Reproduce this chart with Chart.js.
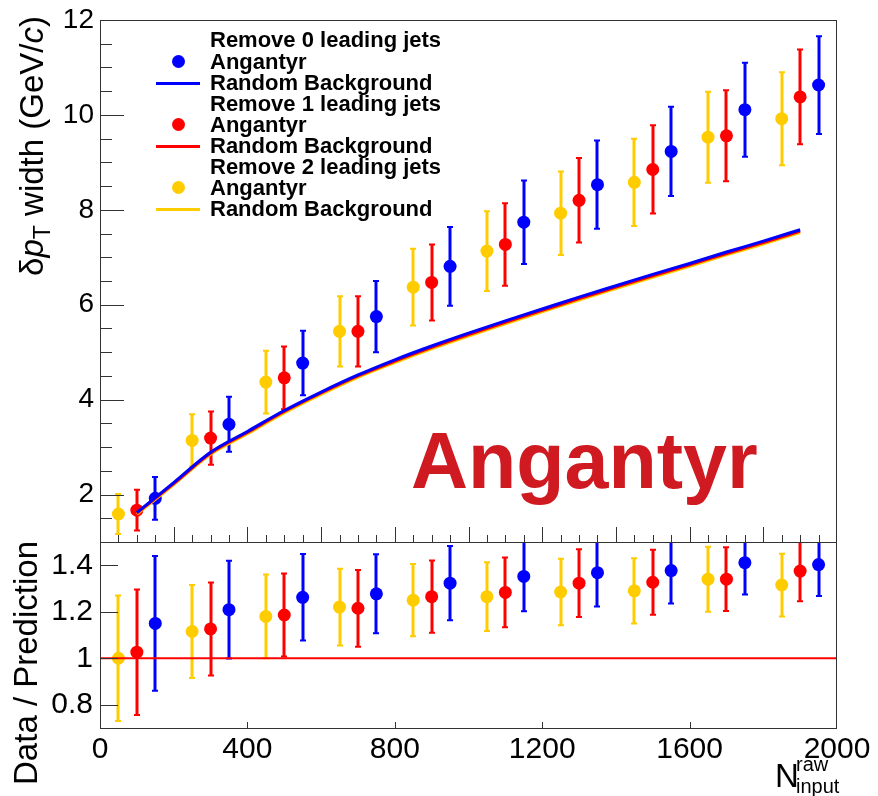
<!DOCTYPE html>
<html><head><meta charset="utf-8">
<script src="https://cdn.jsdelivr.net/npm/chart.js@4.4.1/dist/chart.umd.min.js"></script>
<style>
html,body{margin:0;padding:0;background:#fff;}
#wrap{position:relative;width:878px;height:796px;overflow:hidden;font-family:"Liberation Sans",Arial,Helvetica,sans-serif;color:#000;}
canvas{position:absolute;left:0;}
#c1{top:0;}
#c2{top:520px;}
.t{position:absolute;white-space:nowrap;}
.rot{transform-origin:0 0;transform:rotate(-90deg);width:400px;text-align:right;font-size:33px;line-height:33px;}
.leg{position:absolute;left:210px;font-weight:bold;font-size:22px;line-height:21.1px;white-space:nowrap;}
.dot{position:absolute;width:13px;height:13px;border-radius:50%;left:171.5px;}
.ln{position:absolute;left:156px;width:44px;height:3px;}
</style>
</head><body>
<div id="wrap">
<canvas id="c1" width="878" height="560"></canvas>
<canvas id="c2" width="878" height="276"></canvas>
<div class="t rot" style="left:15px;top:416px;">&delta;<i>p</i><span style="font-size:0.7em;position:relative;top:0.3em;">T</span> width (GeV/<i>c</i>)</div>
<div class="t rot" style="left:9px;top:941px;">Data / Prediction</div>
<div class="t" style="left:775px;top:759px;font-size:33px;line-height:33px;">N</div>
<div class="t" style="left:796px;top:754px;font-size:20px;line-height:20px;">raw</div>
<div class="t" style="left:796px;top:776px;font-size:20px;line-height:20px;">input</div>
<div class="t" style="left:411px;top:421px;font-size:79px;line-height:79px;font-weight:bold;color:rgb(206,26,32);">Angantyr</div>
<div id="legend"></div>
</div>
<script>
// ---- data ----
const bgX      = [100,200,300,400,500,600,700,800,900,1000,1100,1200,1300,1400,1500,1600,1700,1800,1900];
const bgBlue   = [1.62,2.25,2.89,3.33,3.77,4.16,4.52,4.84,5.13,5.40,5.66,5.91,6.16,6.40,6.64,6.87,7.11,7.34,7.58];
const bgRed    = [1.61,2.23,2.87,3.31,3.75,4.14,4.50,4.81,5.10,5.37,5.63,5.88,6.13,6.37,6.61,6.84,7.08,7.31,7.55];
const bgYellow = [1.59,2.21,2.85,3.28,3.72,4.11,4.47,4.78,5.07,5.34,5.60,5.85,6.10,6.34,6.58,6.81,7.05,7.28,7.52];

const xYellow = [50,250,450,650,850,1050,1250,1450,1650,1850];
const xRed    = [100,300,500,700,900,1100,1300,1500,1700,1900];
const xBlue   = [150,350,550,750,950,1150,1350,1550,1750,1950];

const yYellow = [1.59,3.14,4.37,5.44,6.37,7.13,7.93,8.58,9.53,9.92];
const eYellow = [0.42,0.55,0.66,0.74,0.81,0.84,0.88,0.92,0.96,0.98];
const yRed    = [1.67,3.19,4.46,5.44,6.47,7.27,8.20,8.85,9.56,10.38];
const eRed    = [0.43,0.56,0.66,0.74,0.80,0.87,0.89,0.93,0.96,1.00];
const yBlue   = [1.92,3.48,4.77,5.75,6.81,7.74,8.53,9.23,10.11,10.63];
const eBlue   = [0.45,0.58,0.68,0.75,0.83,0.88,0.93,0.94,0.99,1.03];

const rYellow  = [1.00,1.115,1.18,1.22,1.25,1.265,1.285,1.29,1.34,1.315];
const reYellow = [0.27,0.20,0.18,0.165,0.155,0.148,0.143,0.14,0.14,0.135];
const rRed     = [1.026,1.126,1.186,1.215,1.265,1.283,1.323,1.327,1.34,1.375];
const reRed    = [0.27,0.20,0.178,0.165,0.155,0.15,0.146,0.14,0.137,0.13];
const rBlue    = [1.15,1.209,1.262,1.277,1.323,1.352,1.368,1.377,1.411,1.403];
const reBlue   = [0.29,0.21,0.186,0.17,0.16,0.15,0.145,0.142,0.137,0.135];

const ratioLineX = [0,2000];
const ratioLineY = [1,1];

const topYTicks   = [2,4,6,8,10,12];
const ratioYTicks = [0.8,1,1.2,1.4];
const xTickLabels = [0,400,800,1200,1600,2000];

const legendRows = [
  {text:'Remove 0 leading jets'},
  {text:'Angantyr', dot:'#0000ff'},
  {text:'Random Background', line:'#0000ff'},
  {text:'Remove 1 leading jets'},
  {text:'Angantyr', dot:'#ff0000'},
  {text:'Random Background', line:'#ff0000'},
  {text:'Remove 2 leading jets'},
  {text:'Angantyr', dot:'#ffcc00'},
  {text:'Random Background', line:'#ffcc00'}
];

// ---- colours ----
const BLUE='#0000ff', RED='#ff0000', YEL='#ffcc00';

// ---- legend (html text) ----
const lg = document.getElementById('legend');
legendRows.forEach((r,i)=>{
  const cy = 40 + 21.1*i;
  const d = document.createElement('div');
  d.className='leg'; d.style.top=(cy-10.55)+'px'; d.textContent=r.text; lg.appendChild(d);
  if(r.dot){const m=document.createElement('div');m.className='dot';m.style.top=(cy-6.5)+'px';m.style.background=r.dot;lg.appendChild(m);}
  if(r.line){const m=document.createElement('div');m.className='ln';m.style.top=(cy-0.5)+'px';m.style.background=r.line;lg.appendChild(m);}
});

// ---- helpers ----
const pts = (xs,ys,es)=>xs.map((x,i)=>({x:x,y:ys[i],e:es?es[i]:0}));
function range(a,b,s){const o=[];for(let v=a;v<=b+1e-9;v+=s)o.push(Math.round(v*1000)/1000);return o;}

const rootPlugin = {
  id:'rootAxes',
  beforeDatasetsDraw(chart){
    const {ctx, chartArea:a} = chart;
    ctx.save();
    ctx.beginPath(); ctx.rect(a.left,a.top,a.right-a.left,a.bottom-a.top); ctx.clip();
    ctx.lineCap='butt';
    chart.data.datasets.forEach(ds=>{
      if(!ds.errorBars) return;
      const xs = chart.scales.x, ys = chart.scales.y;
      ctx.strokeStyle = ds.backgroundColor;
      ds.data.forEach(d=>{
        const px = Math.round(xs.getPixelForValue(d.x));
        const y1 = ys.getPixelForValue(d.y-d.e), y2 = ys.getPixelForValue(d.y+d.e);
        ctx.lineWidth=3; ctx.beginPath(); ctx.moveTo(px,y1); ctx.lineTo(px,y2); ctx.stroke();
        ctx.lineWidth=2; ctx.beginPath();
        ctx.moveTo(px-3,y1); ctx.lineTo(px+3,y1);
        ctx.moveTo(px-3,y2); ctx.lineTo(px+3,y2); ctx.stroke();
      });
    });
    ctx.restore();
  },
  afterDraw(chart, args, o){
    const {ctx, chartArea:a} = chart;
    const xs = chart.scales.x, ys = chart.scales.y;
    ctx.save();
    ctx.strokeStyle='#333'; ctx.lineWidth=1;
    ctx.strokeRect(a.left+0.5, a.top+0.5, a.right-a.left-1, a.bottom-a.top);
    ctx.beginPath();
    (o.yMajor||[]).forEach(v=>{const p=Math.round(ys.getPixelForValue(v))+0.5;ctx.moveTo(a.left,p);ctx.lineTo(a.left+o.yMajorLen,p);});
    (o.yMinor||[]).forEach(v=>{const p=Math.round(ys.getPixelForValue(v))+0.5;ctx.moveTo(a.left,p);ctx.lineTo(a.left+o.yMinorLen,p);});
    (o.xMajor||[]).forEach(v=>{const p=Math.round(xs.getPixelForValue(v))+0.5;ctx.moveTo(p,a.bottom);ctx.lineTo(p,a.bottom-o.xMajorLen);});
    (o.xMinor||[]).forEach(v=>{const p=Math.round(xs.getPixelForValue(v))+0.5;ctx.moveTo(p,a.bottom);ctx.lineTo(p,a.bottom-o.xMinorLen);});
    ctx.stroke();
    ctx.restore();
  }
};

const FONT = '"Liberation Sans", Arial, Helvetica, sans-serif';
const common = { responsive:false, animation:false, events:[] };
const fixY = s=>{s.width=100; s.paddingTop=0; s.paddingBottom=0;};

const curve = (ys,color)=>({type:'line', data:pts(bgX,ys), borderColor:color, backgroundColor:color, borderWidth:3,
  pointRadius:0, fill:false, showLine:true, cubicInterpolationMode:'monotone'});
const marks = (xs,ys,es,color)=>({type:'scatter', data:pts(xs,ys,es), backgroundColor:color, borderColor:color,
  borderWidth:0, pointRadius:6.5, pointHoverRadius:6.5, errorBars:true});

// ---- top chart ----
new Chart(document.getElementById('c1'), {
  type:'scatter',
  data:{datasets:[
    curve(bgBlue,BLUE), curve(bgRed,RED), curve(bgYellow,YEL),
    marks(xBlue,yBlue,eBlue,BLUE), marks(xRed,yRed,eRed,RED), marks(xYellow,yYellow,eYellow,YEL)
  ]},
  options:Object.assign({}, common, {
    layout:{autoPadding:false, padding:{left:0,right:41,top:20,bottom:18}},
    plugins:{legend:{display:false}, tooltip:{enabled:false},
      rootAxes:{yMajor:topYTicks, yMinor:range(1,12,0.5).filter(v=>v%2!==0), yMajorLen:24, yMinorLen:12,
                xMajor:range(200,1800,200), xMinor:range(50,1950,50).filter(v=>v%200!==0), xMajorLen:15, xMinorLen:7}},
    scales:{
      x:{type:'linear', min:0, max:2000, display:false},
      y:{type:'linear', min:1, max:12,
         afterFit:fixY,
         afterBuildTicks:s=>{s.ticks=topYTicks.map(v=>({value:v}));},
         grid:{display:false, drawTicks:false, tickLength:0}, border:{display:false},
         ticks:{padding:6, color:'#000', font:{family:FONT,size:28}, callback:v=>String(v)}}
    }
  }),
  plugins:[rootPlugin]
});

// ---- ratio chart ----
new Chart(document.getElementById('c2'), {
  type:'scatter',
  data:{datasets:[
    {type:'line', data:ratioLineX.map((x,i)=>({x:x,y:ratioLineY[i]})), borderColor:RED, borderWidth:2, pointRadius:0, fill:false, showLine:true},
    marks(xBlue,rBlue,reBlue,BLUE), marks(xRed,rRed,reRed,RED), marks(xYellow,rYellow,reYellow,YEL)
  ]},
  options:Object.assign({}, common, {
    layout:{autoPadding:false, padding:{left:0,right:41,top:22,bottom:0}},
    plugins:{legend:{display:false}, tooltip:{enabled:false},
      rootAxes:{yMajor:ratioYTicks, yMajorLen:18, xMajor:[400,800,1200,1600], xMajorLen:6}},
    scales:{
      x:{type:'linear', min:0, max:2000,
         afterFit:s=>{s.height=68; s.paddingLeft=0; s.paddingRight=0;},
         afterBuildTicks:s=>{s.ticks=xTickLabels.map(v=>({value:v}));},
         grid:{display:false, drawTicks:false, tickLength:0}, border:{display:false},
         ticks:{padding:4, maxRotation:0, autoSkip:false, color:'#000', font:{family:FONT,size:30}, callback:v=>String(v)}},
      y:{type:'linear', min:0.7, max:1.5,
         afterFit:fixY,
         afterBuildTicks:s=>{s.ticks=ratioYTicks.map(v=>({value:v}));},
         grid:{display:false, drawTicks:false, tickLength:0}, border:{display:false},
         ticks:{padding:7, color:'#000', font:{family:FONT,size:30}, callback:v=>String(v)}}
    }
  }),
  plugins:[rootPlugin]
});
</script>
</body></html>
